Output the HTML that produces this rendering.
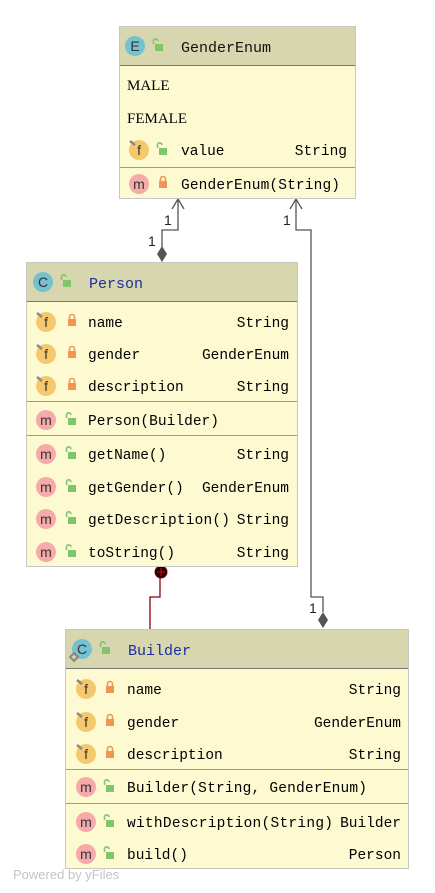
<!DOCTYPE html>
<html><head><meta charset="utf-8"><style>
html,body{margin:0;padding:0;background:#fff;}
svg{display:block;}
text{font-family:"Liberation Mono",monospace;font-size:14.5px;fill:#000;}
.h{fill:#1b2fa0;font-size:15px;}
.s{font-family:"Liberation Serif",serif;font-size:15px;}
.ic{font-family:"Liberation Sans",sans-serif;font-size:14px;fill:#333;text-anchor:middle;}
.lb{font-family:"Liberation Sans",sans-serif;font-size:14px;fill:#222;}
</style></head><body>
<svg width="435" height="893" viewBox="0 0 435 893" xmlns="http://www.w3.org/2000/svg">
<defs>
<g id="lo"><rect x="-4" y="-2" width="8" height="7" fill="#f0955a"/><path d="M-2.5,-2 v-2 a2.5,2.5 0 0 1 5,0 v2" fill="none" stroke="#f0955a" stroke-width="1.6"/></g>
<g id="lg"><rect x="-3" y="-1" width="8" height="7" fill="#7ec56b"/><path d="M-4.5,-1 v-3 a2.2,2.2 0 0 1 4.4,0" fill="none" stroke="#7ec56b" stroke-width="1.6"/></g>
<g id="f"><circle r="10" fill="#f5c86e"/><path d="M-9,-9 l5,4" stroke="#8a8a8a" stroke-width="2.5"/><text class="ic" y="5">f</text></g>
<g id="m"><circle r="10" fill="#f6aaa9"/><text class="ic" y="5">m</text></g>
</defs>

<g fill="none" stroke="#555" stroke-width="1.3">
<path d="M162,247 V230 H178 V199"/>
<path d="M172,209 L178,199 L184,209"/>
<path d="M296,199 V230 H311 V597 H323 V612"/>
<path d="M290,209 L296,199 L302,209"/>
</g>
<path d="M162,246 l-5,8 l5,8 l5,-8z" fill="#555"/>
<path d="M323,612 l-5,8 l5,8 l5,-8z" fill="#555"/>
<text class="lb" x="164" y="225">1</text>
<text class="lb" x="148" y="246">1</text>
<text class="lb" x="283" y="225">1</text>
<text class="lb" x="309" y="613">1</text>
<path d="M160,578 V597 H150 V629" fill="none" stroke="#8b0000" stroke-width="1.3"/>
<circle cx="161" cy="572" r="6" fill="#1a0000" stroke="#8b0000"/>
<path d="M157,572 h8 M161,568 v8" stroke="#c00" stroke-width="1.3"/>

<rect x="119.5" y="26.5" width="236" height="172" fill="#fdfad2" stroke="#c8c8c0"/>
<rect x="120" y="27" width="235" height="38" fill="#d8d6ae"/>
<line x1="120" y1="65.5" x2="355" y2="65.5" stroke="#777"/>
<circle cx="135" cy="46" r="10" fill="#75c1cf"/><text class="ic" x="135" y="51">E</text>
<use href="#lg" x="158" y="45"/>
<text class="h" x="181" y="52" style="fill:#111">GenderEnum</text>
<text class="s" x="127" y="90">MALE</text>
<text class="s" x="127" y="123">FEMALE</text>
<use href="#f" x="139" y="150"/><use href="#lg" x="162" y="149"/>
<text x="181" y="155">value</text><text x="347" y="155" text-anchor="end">String</text>
<line x1="120" y1="167.5" x2="355" y2="167.5" stroke="#999"/>
<use href="#m" x="139" y="184"/><use href="#lo" x="163" y="183"/>
<text x="181" y="189" textLength="159">GenderEnum(String)</text>

<rect x="26.5" y="262.5" width="271" height="304" fill="#fdfad2" stroke="#c8c8c0"/>
<rect x="27" y="263" width="270" height="38" fill="#d8d6ae"/>
<line x1="27" y1="301.5" x2="297" y2="301.5" stroke="#777"/>
<circle cx="43" cy="282" r="10" fill="#75c1cf"/><text class="ic" x="43" y="287">C</text>
<use href="#lg" x="66" y="281"/>
<text class="h" x="89" y="288">Person</text>
<use href="#f" x="46" y="322"/><use href="#lo" x="72" y="321"/><text x="88" y="327">name</text><text x="289" y="327" text-anchor="end">String</text>
<use href="#f" x="46" y="354"/><use href="#lo" x="72" y="353"/><text x="88" y="359">gender</text><text x="289" y="359" text-anchor="end">GenderEnum</text>
<use href="#f" x="46" y="386"/><use href="#lo" x="72" y="385"/><text x="88" y="391">description</text><text x="289" y="391" text-anchor="end">String</text>
<line x1="27" y1="401.5" x2="297" y2="401.5" stroke="#999"/>
<use href="#m" x="46" y="420"/><use href="#lg" x="71" y="419"/><text x="88" y="425" textLength="131">Person(Builder)</text>
<line x1="27" y1="435.5" x2="297" y2="435.5" stroke="#999"/>
<use href="#m" x="46" y="454"/><use href="#lg" x="71" y="453"/><text x="88" y="459">getName()</text><text x="289" y="459" text-anchor="end">String</text>
<use href="#m" x="46" y="487"/><use href="#lg" x="71" y="486"/><text x="88" y="492">getGender()</text><text x="289" y="492" text-anchor="end">GenderEnum</text>
<use href="#m" x="46" y="519"/><use href="#lg" x="71" y="518"/><text x="88" y="524" textLength="142">getDescription()</text><text x="289" y="524" text-anchor="end">String</text>
<use href="#m" x="46" y="552"/><use href="#lg" x="71" y="551"/><text x="88" y="557">toString()</text><text x="289" y="557" text-anchor="end">String</text>

<rect x="65.5" y="629.5" width="343" height="239" fill="#fdfad2" stroke="#c8c8c0"/>
<rect x="66" y="630" width="342" height="38" fill="#d8d6ae"/>
<line x1="66" y1="668.5" x2="408" y2="668.5" stroke="#777"/>
<circle cx="82" cy="649" r="10" fill="#75c1cf"/><text class="ic" x="82" y="654">C</text>
<path d="M70,657 l4,-4 l4,4 l-4,4z" fill="none" stroke="#888" stroke-width="2"/>
<use href="#lg" x="105" y="648"/>
<text class="h" x="128" y="655">Builder</text>
<use href="#f" x="86" y="689"/><use href="#lo" x="110" y="688"/><text x="127" y="694">name</text><text x="401" y="694" text-anchor="end">String</text>
<use href="#f" x="86" y="722"/><use href="#lo" x="110" y="721"/><text x="127" y="727">gender</text><text x="401" y="727" text-anchor="end">GenderEnum</text>
<use href="#f" x="86" y="754"/><use href="#lo" x="110" y="753"/><text x="127" y="759">description</text><text x="401" y="759" text-anchor="end">String</text>
<line x1="66" y1="769.5" x2="408" y2="769.5" stroke="#999"/>
<use href="#m" x="86" y="787"/><use href="#lg" x="109" y="786"/><text x="127" y="792" textLength="240">Builder(String, GenderEnum)</text>
<line x1="66" y1="803.5" x2="408" y2="803.5" stroke="#999"/>
<use href="#m" x="86" y="822"/><use href="#lg" x="109" y="821"/><text x="127" y="827" textLength="206">withDescription(String)</text><text x="401" y="827" text-anchor="end">Builder</text>
<use href="#m" x="86" y="854"/><use href="#lg" x="109" y="853"/><text x="127" y="859">build()</text><text x="401" y="859" text-anchor="end">Person</text>

<text x="13" y="879" style="font-family:'Liberation Sans',sans-serif;font-size:13px;fill:#c4c4c4">Powered by yFiles</text>
</svg>
</body></html>
